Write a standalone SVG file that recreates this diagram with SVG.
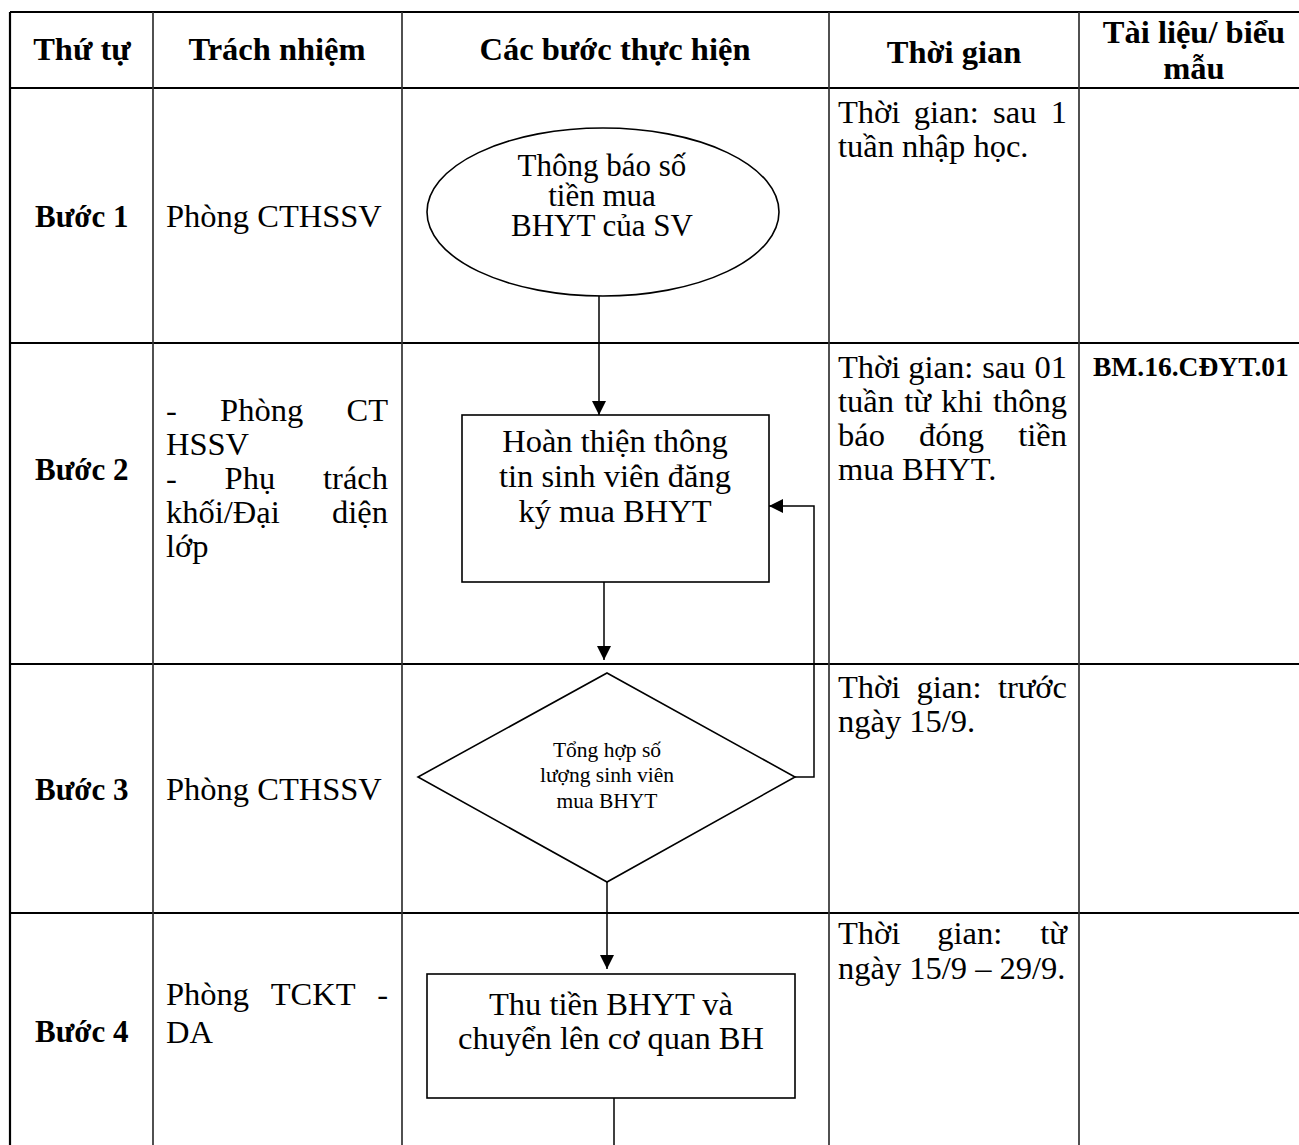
<svg xmlns="http://www.w3.org/2000/svg" width="1299" height="1145" viewBox="0 0 1299 1145">
<style>
.bg{fill:#fff}
.hl{stroke:#000;stroke-width:2.2;fill:none}
.vl{stroke:#333;stroke-width:1.7;fill:none}
.shape{fill:#fff;stroke:#000;stroke-width:1.6}
.con{stroke:#000;stroke-width:1.5;fill:none}
text{font-family:"Liberation Serif","Times New Roman",serif;fill:#000}
.h{font-size:32.5px;font-weight:bold;text-anchor:middle}
.b{font-size:31px;font-weight:bold}
.t{font-size:32.5px}
.e{text-anchor:end}
.c{font-size:32.5px;text-anchor:middle}
.o{font-size:31px;text-anchor:middle}
.s{font-size:21.5px;text-anchor:middle}
.bm{font-size:27.5px;font-weight:bold}
</style>
<defs>
<marker id="arr" markerUnits="userSpaceOnUse" markerWidth="15" markerHeight="15" refX="14" refY="7" orient="auto">
<path d="M0,0 L14,7 L0,14 z" fill="#000"/>
</marker>
</defs>
<rect class="bg" x="0" y="0" width="1299" height="1145"/>
<g id="table">
<path class="hl" d="M10,12 H1299 M10,88 H1299 M10,343 H1299 M10,664 H1299 M10,913 H1299 M10,12 V1145"/>
<path class="vl" d="M153,12 V1145 M402,12 V1145 M829,12 V1145 M1079,12 V1145"/>
</g>
<g id="header">
<text class="h" x="82" y="60">Thứ tự</text>
<text class="h" x="277" y="60">Trách nhiệm</text>
<text class="h" x="615" y="60">Các bước thực hiện</text>
<text class="h" x="954" y="63">Thời gian</text>
<text class="h" x="1194" y="43">Tài liệu/ biểu</text>
<text class="h" x="1194" y="79">mẫu</text>
</g>
<g id="row1">
<text class="b" x="35" y="227">Bước 1</text>
<text class="t" x="166" y="227">Phòng CTHSSV</text>
<text class="t" y="123"><tspan x="838">Thời</tspan><tspan x="913.8">gian:</tspan><tspan x="993.1">sau</tspan><tspan class="e" x="1067">1</tspan></text>
<text class="t" x="838" y="157">tuần nhập học.</text>
</g>
<g id="row2">
<text class="b" x="35" y="480">Bước 2</text>
<text class="t" y="421"><tspan x="166">-</tspan><tspan x="220.1">Phòng</tspan><tspan class="e" x="388">CT</tspan></text>
<text class="t" x="166" y="455">HSSV</text>
<text class="t" y="489"><tspan x="166">-</tspan><tspan x="224.6">Phụ</tspan><tspan class="e" x="388">trách</tspan></text>
<text class="t" y="523"><tspan x="166">khối/Đại</tspan><tspan class="e" x="388">diện</tspan></text>
<text class="t" x="166" y="557">lớp</text>
<text class="t" y="378"><tspan x="838">Thời</tspan><tspan x="908.3">gian:</tspan><tspan x="982.2">sau</tspan><tspan class="e" x="1067">01</tspan></text>
<text class="t" y="412"><tspan x="838">tuần</tspan><tspan x="904.2">từ</tspan><tspan x="941.3">khi</tspan><tspan class="e" x="1067">thông</tspan></text>
<text class="t" y="446"><tspan x="838">báo</tspan><tspan x="919.1">đóng</tspan><tspan class="e" x="1067">tiền</tspan></text>
<text class="t" x="838" y="480">mua BHYT.</text>
<text class="bm" x="1093" y="376">BM.16.CĐYT.01</text>
</g>
<g id="row3">
<text class="b" x="35" y="800">Bước 3</text>
<text class="t" x="166" y="800">Phòng CTHSSV</text>
<text class="t" y="698"><tspan x="838">Thời</tspan><tspan x="916.5">gian:</tspan><tspan class="e" x="1067">trước</tspan></text>
<text class="t" x="838" y="732">ngày 15/9.</text>
</g>
<g id="row4">
<text class="b" x="35" y="1042">Bước 4</text>
<text class="t" y="1005"><tspan x="166">Phòng</tspan><tspan x="270.7">TCKT</tspan><tspan class="e" x="388">-</tspan></text>
<text class="t" x="166" y="1043">DA</text>
<text class="t" y="944"><tspan x="838">Thời</tspan><tspan x="937.3">gian:</tspan><tspan class="e" x="1067">từ</tspan></text>
<text class="t" x="838" y="979">ngày 15/9 – 29/9.</text>
</g>
<g id="connectors">
<path class="con" d="M599,296 V415" marker-end="url(#arr)"/>
<path class="con" d="M604,582 V660" marker-end="url(#arr)"/>
<path class="con" d="M795,777 H814 V506 H769" marker-end="url(#arr)"/>
<path class="con" d="M607,882 V969" marker-end="url(#arr)"/>
<path class="con" d="M614,1098 V1145"/>
</g>
<g id="node-start">
<ellipse class="shape" cx="603" cy="212" rx="176" ry="84"/>
<text class="o" x="602" y="176">Thông báo số</text>
<text class="o" x="602" y="206">tiền mua</text>
<text class="o" x="602" y="236">BHYT của SV</text>
</g>
<g id="node-complete">
<rect class="shape" x="462" y="415" width="307" height="167"/>
<text class="c" x="615" y="452">Hoàn thiện thông</text>
<text class="c" x="615" y="487">tin sinh viên đăng</text>
<text class="c" x="615" y="522">ký mua BHYT</text>
</g>
<g id="node-summary">
<polygon class="shape" points="607,673 795,777 607,882 418,777"/>
<text class="s" x="607" y="757">Tổng hợp số</text>
<text class="s" x="607" y="782">lượng sinh viên</text>
<text class="s" x="607" y="808">mua BHYT</text>
</g>
<g id="node-collect">
<rect class="shape" x="427" y="974" width="368" height="124"/>
<text class="c" x="611" y="1015">Thu tiền BHYT và</text>
<text class="c" x="611" y="1049">chuyển lên cơ quan BH</text>
</g>
</svg>
